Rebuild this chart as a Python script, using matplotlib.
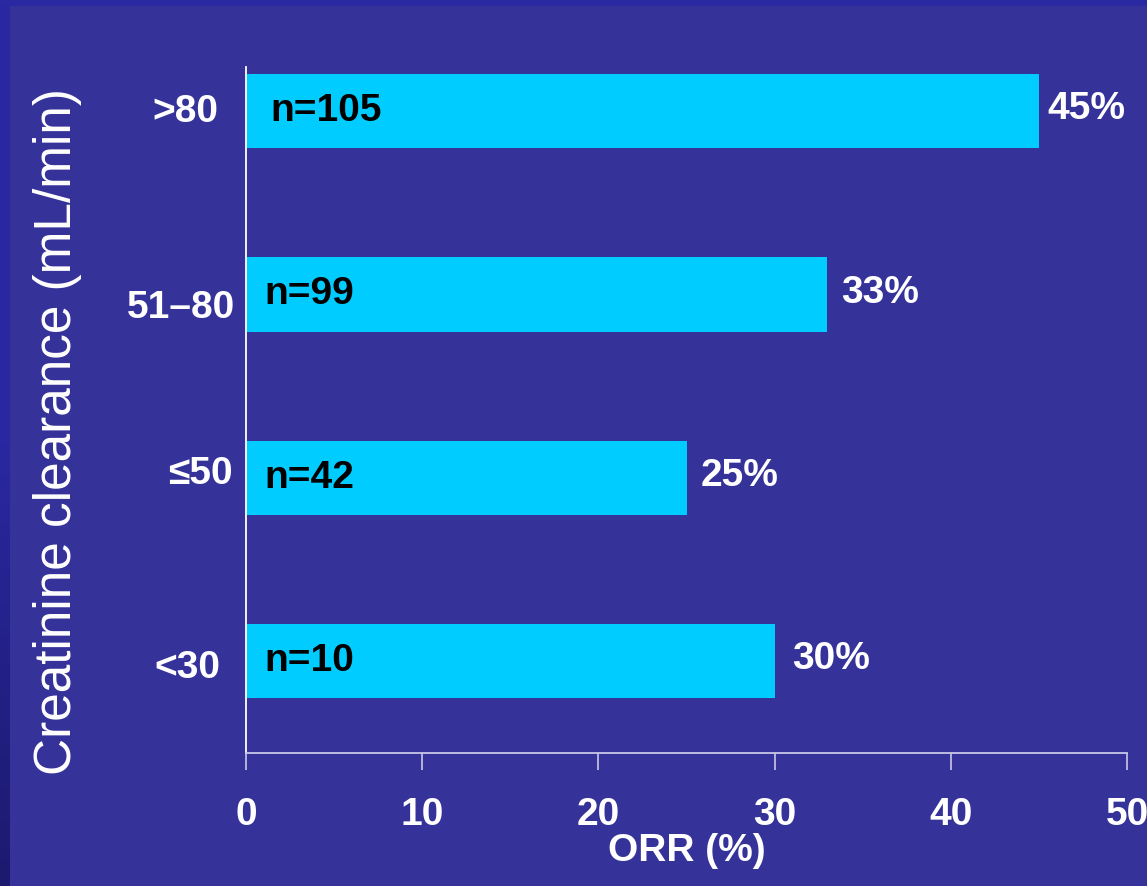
import numpy as np
import matplotlib
matplotlib.use("Agg")
import matplotlib.pyplot as plt
from matplotlib.patches import Rectangle
from matplotlib.transforms import ScaledTranslation

# Objective response rate by creatinine clearance group
categories = ["<30", "\u226450", "51\u201380", ">80"]
orr_values = [30, 25, 33, 45]
n_labels = ["n=10", "n=42", "n=99", "n=105"]
x_ticks = [0, 10, 20, 30, 40, 50]

BG = "#35339a"
BAR = "#00ccff"
FS = 28

plt.rcParams["font.family"] = ["Liberation Sans", "DejaVu Sans"]

fig = plt.figure(figsize=(11.47, 8.86), dpi=100, facecolor=BG)

# Slide frame: thin top band and a darkening left band
fig.patches.append(Rectangle((0, 1 - 6 / 886), 1, 6 / 886, transform=fig.transFigure,
                             facecolor="#2b29a2", edgecolor="none", zorder=0))
grad = np.linspace(0, 1, 256).reshape(-1, 1)
band = fig.add_axes([0, 0, 10 / 1147, 1])
band.imshow(grad, aspect="auto", extent=[0, 1, 0, 1], origin="upper",
            cmap=matplotlib.colors.LinearSegmentedColormap.from_list("edge", ["#2b29a2", "#2a28a0", "#1c1a6e"]))
band.set_axis_off()

ax = fig.add_axes([246 / 1147, 1 - 753 / 886, (1127 - 246) / 1147, (753 - 67) / 886])
ax.set_facecolor(BG)

ypos = np.arange(len(categories))
ax.barh(ypos, orr_values, height=0.405, color=BAR, edgecolor="none", zorder=2)

ax.set_xlim(0, 50)
ax.set_ylim(-0.5, 3.24)

# Text nudges (x in data units) for the in-bar counts and the value labels
n_dx = [1.02, 1.02, 1.02, 1.36]
pct_dx = [1.0, 0.8, 0.8, 0.5]
for y, v, n, ndx, pdx in zip(ypos, orr_values, n_labels, n_dx, pct_dx):
    ax.text(ndx, y, n, color="black", fontsize=FS, fontweight="bold",
            ha="left", va="center", zorder=3)
    ax.text(v + pdx, y + 0.01, f"{v}%", color="white", fontsize=FS, fontweight="bold",
            ha="left", va="center", zorder=3)

ax.set_xticks(x_ticks)
ax.set_xticklabels([str(t) for t in x_ticks], fontsize=FS, fontweight="bold", color="white")
ax.set_yticks(ypos)
ax.set_yticklabels(categories, fontsize=FS, fontweight="bold", color="white")
ax.tick_params(axis="x", length=12, width=1.2, color="#c8c8e8", pad=20)
ax.tick_params(axis="y", length=0, pad=8)

# Slight per-label nudges of the category labels (points)
label_shift = [(-10.5, -2), (-1.5, 6), (0, -7), (-12, 2)]
for lab, (dx, dy) in zip(ax.get_yticklabels(), label_shift):
    lab.set_transform(lab.get_transform() + ScaledTranslation(dx / 72, dy / 72, fig.dpi_scale_trans))

for side in ["top", "right"]:
    ax.spines[side].set_visible(False)
ax.spines["left"].set_color("white")
ax.spines["left"].set_linewidth(1.3)
ax.spines["bottom"].set_color("#c8c8e8")
ax.spines["bottom"].set_linewidth(1.3)

ax.set_xlabel("ORR (%)", fontsize=FS, fontweight="bold", color="white", labelpad=0)

fig.text(58 / 1147, 1 - 432 / 886, "Creatinine clearance (mL/min)", rotation=90,
         fontsize=37, color="white", ha="center", va="center")

fig.savefig("out.png", dpi=100, facecolor=BG)
